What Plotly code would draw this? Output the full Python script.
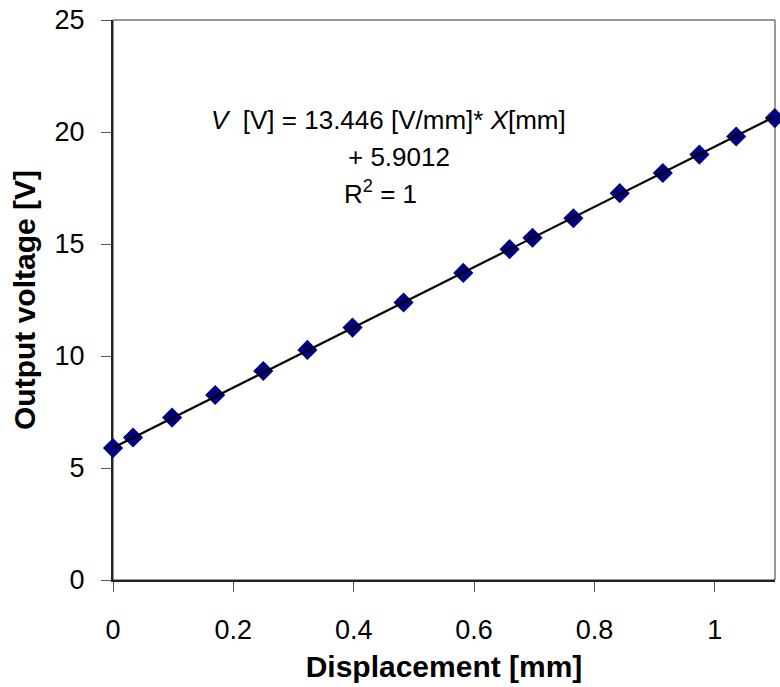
import numpy as np
import plotly.graph_objects as go

# Measured calibration points
displacement_mm = [0.0, 0.0333, 0.0982, 0.1698, 0.2497, 0.323, 0.398, 0.4828, 0.582,
                   0.659, 0.697, 0.765, 0.842, 0.9136, 0.9744, 1.0355, 1.0997]
voltage_v = [5.89, 6.36, 7.25, 8.26, 9.33, 10.27, 11.27, 12.39, 13.71,
             14.77, 15.28, 16.15, 17.27, 18.17, 18.99, 19.80, 20.62]

# Linear fit reported on the chart
SLOPE = 13.446
INTERCEPT = 5.9012
R2 = 1

X_RANGE = [0, 1.1]
Y_RANGE = [0, 25]

FONT = "Liberation Sans, Arial, sans-serif"

fit_x = np.array(X_RANGE)
fit_y = SLOPE * fit_x + INTERCEPT

fig = go.Figure()
fig.add_trace(go.Scatter(
    x=displacement_mm, y=voltage_v, mode="markers",
    marker=dict(symbol="diamond", size=15.5, color="#000080", line=dict(width=0)),
    cliponaxis=False, showlegend=False,
))
fig.add_trace(go.Scatter(
    x=fit_x, y=fit_y, mode="lines",
    line=dict(color="black", width=2.2),
    cliponaxis=False, showlegend=False,
))

axis_common = dict(
    showline=True, linewidth=2, linecolor="#222222",
    ticks="outside", ticklen=10, tickwidth=1, tickcolor="#555555",
    showgrid=False, zeroline=False, layer="below traces",
    tickfont=dict(family=FONT, size=27, color="black"),
)
title_font = dict(family=FONT, size=30, color="black", weight="bold")

fig.update_xaxes(range=X_RANGE, dtick=0.2, tick0=0, ticklabelstandoff=15,
                 title=dict(text="Displacement [mm]", standoff=12, font=title_font),
                 **axis_common)
fig.update_yaxes(range=Y_RANGE, dtick=5, tick0=0, ticklabelstandoff=11,
                 title=dict(text="Output voltage [V]", standoff=10, font=title_font),
                 **axis_common)

# Plot-area frame
fig.add_shape(type="rect", xref="paper", yref="paper", x0=0, y0=0, x1=1, y1=1,
              line=dict(color="#333333", width=1), layer="below")

eq_font = dict(family=FONT, size=26, color="black")
fig.add_annotation(x=0.458, y=20.55, xref="x", yref="y", showarrow=False, font=eq_font,
                   text=f"<i>V</i>  [V] = {SLOPE} [V/mm]* <i>X</i>[mm]")
fig.add_annotation(x=0.475, y=18.87, xref="x", yref="y", showarrow=False, font=eq_font,
                   text=f"+ {INTERCEPT}")
fig.add_annotation(x=0.445, y=17.3, xref="x", yref="y", showarrow=False, font=eq_font,
                   text=f"R<sup>2</sup> = {R2}")

fig.update_layout(
    width=780, height=687,
    margin=dict(l=113, r=5, t=17, b=107),
    paper_bgcolor="white", plot_bgcolor="white",
    font=dict(family=FONT),
)

fig.write_html("out.html")
